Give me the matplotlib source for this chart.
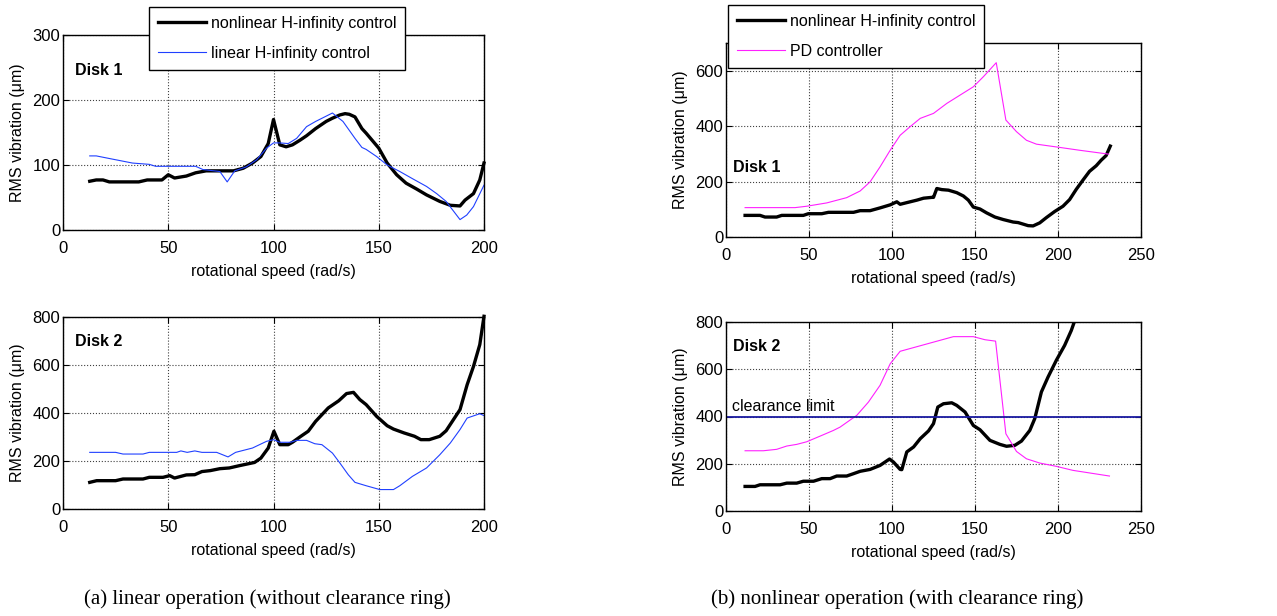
import matplotlib
matplotlib.use("Agg")
import matplotlib.pyplot as plt

plt.rcParams['font.family'] = ['Liberation Sans', 'DejaVu Sans']
FS = 11.5
TFS = 12

# ---------------- data ----------------
# (a) Disk 1
a1_nl_x = [12.7, 15.8, 19, 22, 36, 40, 47, 50, 53, 58.6, 63, 68, 77.6, 81, 85.6, 90, 94, 97.5, 100, 103, 106, 109,
           112.5, 115.7, 120, 125, 128, 131.5, 134, 136, 138.7, 142, 144, 150, 154, 158.5, 163, 168, 172.7, 179,
           184, 188.6, 191, 195, 198, 200]
a1_nl_y = [75, 77, 77, 74, 74, 77, 77, 85, 80, 83, 88, 91, 91, 91, 95, 103, 113, 133, 170, 131, 128, 131,
           138, 145, 156, 167, 172, 177, 179, 178, 174, 156, 149, 126, 103, 85, 72, 63, 54, 44,
           38, 37, 46, 56, 77, 103]
a1_li_x = [12.7, 15.8, 22, 33, 41, 44, 63, 66.5, 74.5, 78, 81.6, 87, 92, 96.7, 100, 103, 107, 111, 115.7, 120,
           128, 133, 138.7, 142, 144, 149, 154, 160, 166, 172.7, 177.5, 182, 188.6, 191.8, 195, 200]
a1_li_y = [114, 114, 110, 103, 101, 98, 98, 93, 90, 74, 91, 97, 108, 126, 134, 134, 133, 141, 159, 167,
           180, 167, 141, 127, 124, 113, 100, 90, 79, 67, 56, 44, 16, 23, 36, 69]

# (a) Disk 2
a2_nl_x = [12.7, 16, 25, 28.5, 38, 41, 47.5, 50.7, 53, 58.6, 62.6, 66, 70, 74.5, 79, 84, 91, 94, 97.5, 100.2,
           103, 107, 109, 113, 116.5, 120, 126, 131, 134.7, 138, 141, 144, 149, 154, 157, 162, 167, 170, 174,
           179, 182, 188.6, 192, 195, 198, 200]
a2_nl_y = [111, 118, 118, 125, 125, 132, 132, 139, 129, 142, 143, 156, 160, 168, 171, 181, 194, 212, 254, 324,
           268, 268, 278, 303, 324, 365, 421, 451, 481, 486, 456, 435, 386, 347, 333, 317, 303, 289, 289,
           303, 326, 414, 518, 594, 685, 803]
a2_li_x = [12.7, 25, 28.5, 38, 41, 54, 56, 59, 62.6, 66, 73, 78.4, 82, 90, 96.7, 100, 103, 108, 111, 115.7,
           119.6, 123, 128, 131.5, 135.5, 138.7, 144, 150.5, 157, 160, 166, 172.7, 179, 184, 188.6, 192, 198, 200]
a2_li_y = [236, 236, 229, 229, 236, 236, 242, 236, 242, 236, 236, 217, 236, 254, 282, 289, 278, 278, 286, 286,
           272, 268, 233, 192, 143, 111, 97, 81, 81, 97, 136, 171, 226, 275, 331, 379, 397, 389]

# (b) Disk 1
b1_nl_x = [11.5, 20.5, 23.5, 30.5, 33.6, 46.6, 49.6, 57.7, 61.7, 76.8, 80.8, 86.8, 92.8, 98.9, 102.9, 104.9,
           108.9, 115, 119, 124, 125, 127, 130, 134, 139, 143, 146, 149, 153, 157, 162, 167, 173, 176, 182,
           185, 189, 193, 198, 203, 207, 211, 215, 219, 223, 226, 229, 231.5]
b1_nl_y = [78, 78, 72, 72, 78, 78, 84, 84, 89, 89, 95, 95, 105, 116, 127, 118,
           124, 133, 140, 143, 143, 175, 171, 169, 160, 148, 133, 108, 101, 87, 72, 63, 54, 52, 41,
           40, 51, 70, 92, 111, 135, 172, 205, 237, 257, 277, 294, 328]
b1_pd_x = [11.5, 22.5, 41.6, 48.6, 60.7, 72.7, 80.8, 86.8, 92.8, 98.9, 104.9, 110.9, 117, 125, 133, 141, 149,
           155, 162.8, 168.6, 175, 181, 187, 199, 213, 230.5]
b1_pd_y = [106, 106, 106, 111, 123, 142, 166, 199, 253, 313, 367, 398, 428, 446, 482, 512, 542,
           578, 629, 422, 380, 349, 335, 325, 313, 299]

# (b) Disk 2
b2_nl_x = [11.5, 17.5, 20.5, 32.6, 36.6, 42.6, 46.6, 52.7, 57.7, 62.7, 66.7, 72.7, 76.8, 80.8, 86.8, 92.8,
           98.5, 100.9, 104.9, 105.9, 108.9, 113, 117, 122, 125, 127.6, 131, 136, 139, 144, 149, 153, 159,
           165, 169, 174, 178, 183, 186, 190, 194, 199, 204, 208, 210]
b2_nl_y = [104, 104, 111, 111, 118, 118, 126, 126, 137, 137, 148, 148, 158, 168, 176, 193,
           220, 207, 176, 175, 250, 271, 306, 339, 370, 440, 454, 458, 447, 419, 362, 344, 299,
           282, 274, 278, 296, 341, 391, 504, 567, 638, 701, 764, 804]
b2_pd_x = [11.5, 22.5, 30.5, 36.6, 42.6, 48.6, 56.7, 64.7, 68.7, 78.8, 85.8, 92.8, 98.9, 104.9, 137, 149,
           156, 162.4, 168.6, 175, 181, 189, 199, 209, 231]
b2_pd_y = [255, 255, 261, 275, 282, 293, 317, 341, 355, 405, 461, 532, 623, 676, 738, 738,
           725, 719, 327, 252, 221, 203, 189, 172, 148]

clearance_limit = 400

legend_a = ["nonlinear H-infinity control", "linear H-infinity control"]
legend_b = ["nonlinear H-infinity control", "PD controller"]
xlabel = "rotational speed (rad/s)"
ylabel = "RMS vibration (\u03bcm)"
caption_a = "(a) linear operation (without clearance ring)"
caption_b = "(b) nonlinear operation (with clearance ring)"

# ---------------- figure ----------------
W, H = 1277, 616
fig = plt.figure(figsize=(W / 100, H / 100), dpi=100)

def px_axes(l, t, r, b):
    return fig.add_axes([l / W, (H - b) / H, (r - l) / W, (b - t) / H])

ax_a1 = px_axes(63, 35, 484, 230)
ax_a2 = px_axes(63, 317, 484, 509)
ax_b1 = px_axes(726, 43, 1141, 237)
ax_b2 = px_axes(726, 322, 1141, 511)

BLACK_LW = 2.4
THIN_LW = 0.8
BLUE = '#2040ff'
MAG = '#ff20ff'

def style(ax, xmax, ymax, yticks, xticks):
    ax.set_xlim(0, xmax)
    ax.set_ylim(0, ymax)
    ax.set_xticks(xticks)
    ax.set_yticks(yticks)
    ax.grid(True, linestyle=':', color='0.25', linewidth=0.8)
    ax.set_axisbelow(True)
    ax.tick_params(direction='in', top=True, right=True, length=4, width=0.8,
                   labelsize=TFS)
    ax.tick_params(axis='x', pad=8)
    ax.tick_params(axis='y', pad=2)
    for s in ax.spines.values():
        s.set_linewidth(1.0)
    ax.set_xlabel(xlabel, fontsize=FS, labelpad=6)
    ax.set_ylabel(ylabel, fontsize=FS, labelpad=5)

style(ax_a1, 200, 300, [0, 100, 200, 300], [0, 50, 100, 150, 200])
style(ax_a2, 200, 800, [0, 200, 400, 600, 800], [0, 50, 100, 150, 200])
style(ax_b1, 250, 700, [0, 200, 400, 600], [0, 50, 100, 150, 200, 250])
style(ax_b2, 250, 800, [0, 200, 400, 600, 800], [0, 50, 100, 150, 200, 250])

leg_kw = dict(fontsize=FS, frameon=True, fancybox=False, framealpha=1, edgecolor='black',
              handlelength=3.0, handletextpad=0.3, borderpad=0.56, labelspacing=0.94,
              borderaxespad=0)

# (a) Disk 1
l1, = ax_a1.plot(a1_nl_x, a1_nl_y, color='black', lw=BLACK_LW, clip_on=False)
l2, = ax_a1.plot(a1_li_x, a1_li_y, color=BLUE, lw=THIN_LW)
ax_a1.text(0.028, 0.82, "Disk 1", transform=ax_a1.transAxes, fontsize=FS, fontweight='bold',
           ha='left', va='center')
leg = ax_a1.legend([l1, l2], legend_a, loc='upper left', bbox_to_anchor=(0.204, 1.145), **leg_kw)
leg.get_frame().set_linewidth(1.0)

# (a) Disk 2
ax_a2.plot(a2_nl_x, a2_nl_y, color='black', lw=BLACK_LW, clip_on=False)
ax_a2.plot(a2_li_x, a2_li_y, color=BLUE, lw=THIN_LW)
ax_a2.text(0.028, 0.87, "Disk 2", transform=ax_a2.transAxes, fontsize=FS, fontweight='bold',
           ha='left', va='center')

# (b) Disk 1
m1, = ax_b1.plot(b1_nl_x, b1_nl_y, color='black', lw=BLACK_LW)
m2, = ax_b1.plot(b1_pd_x, b1_pd_y, color=MAG, lw=THIN_LW)
ax_b1.text(0.017, 0.36, "Disk 1", transform=ax_b1.transAxes, fontsize=FS, fontweight='bold',
           ha='left', va='center')
leg2 = ax_b1.legend([m1, m2], legend_b, loc='upper left', bbox_to_anchor=(0.005, 1.196), **leg_kw)
leg2.get_frame().set_linewidth(1.0)

# (b) Disk 2
ax_b2.plot(b2_nl_x, b2_nl_y, color='black', lw=BLACK_LW)
ax_b2.plot(b2_pd_x, b2_pd_y, color=MAG, lw=THIN_LW)
ax_b2.axhline(clearance_limit, color='#1a1aa0', lw=1.3)
ax_b2.text(3.5, clearance_limit + 10, "clearance limit", fontsize=FS, ha='left', va='bottom')
ax_b2.text(0.017, 0.87, "Disk 2", transform=ax_b2.transAxes, fontsize=FS, fontweight='bold',
           ha='left', va='center')

fig.text(267 / W, (H - 599) / H, caption_a, family=['Liberation Serif', 'DejaVu Serif'],
         fontsize=15, ha='center', va='center')
fig.text(897 / W, (H - 599) / H, caption_b, family=['Liberation Serif', 'DejaVu Serif'],
         fontsize=15, ha='center', va='center')

fig.savefig("out.png", dpi=100)
